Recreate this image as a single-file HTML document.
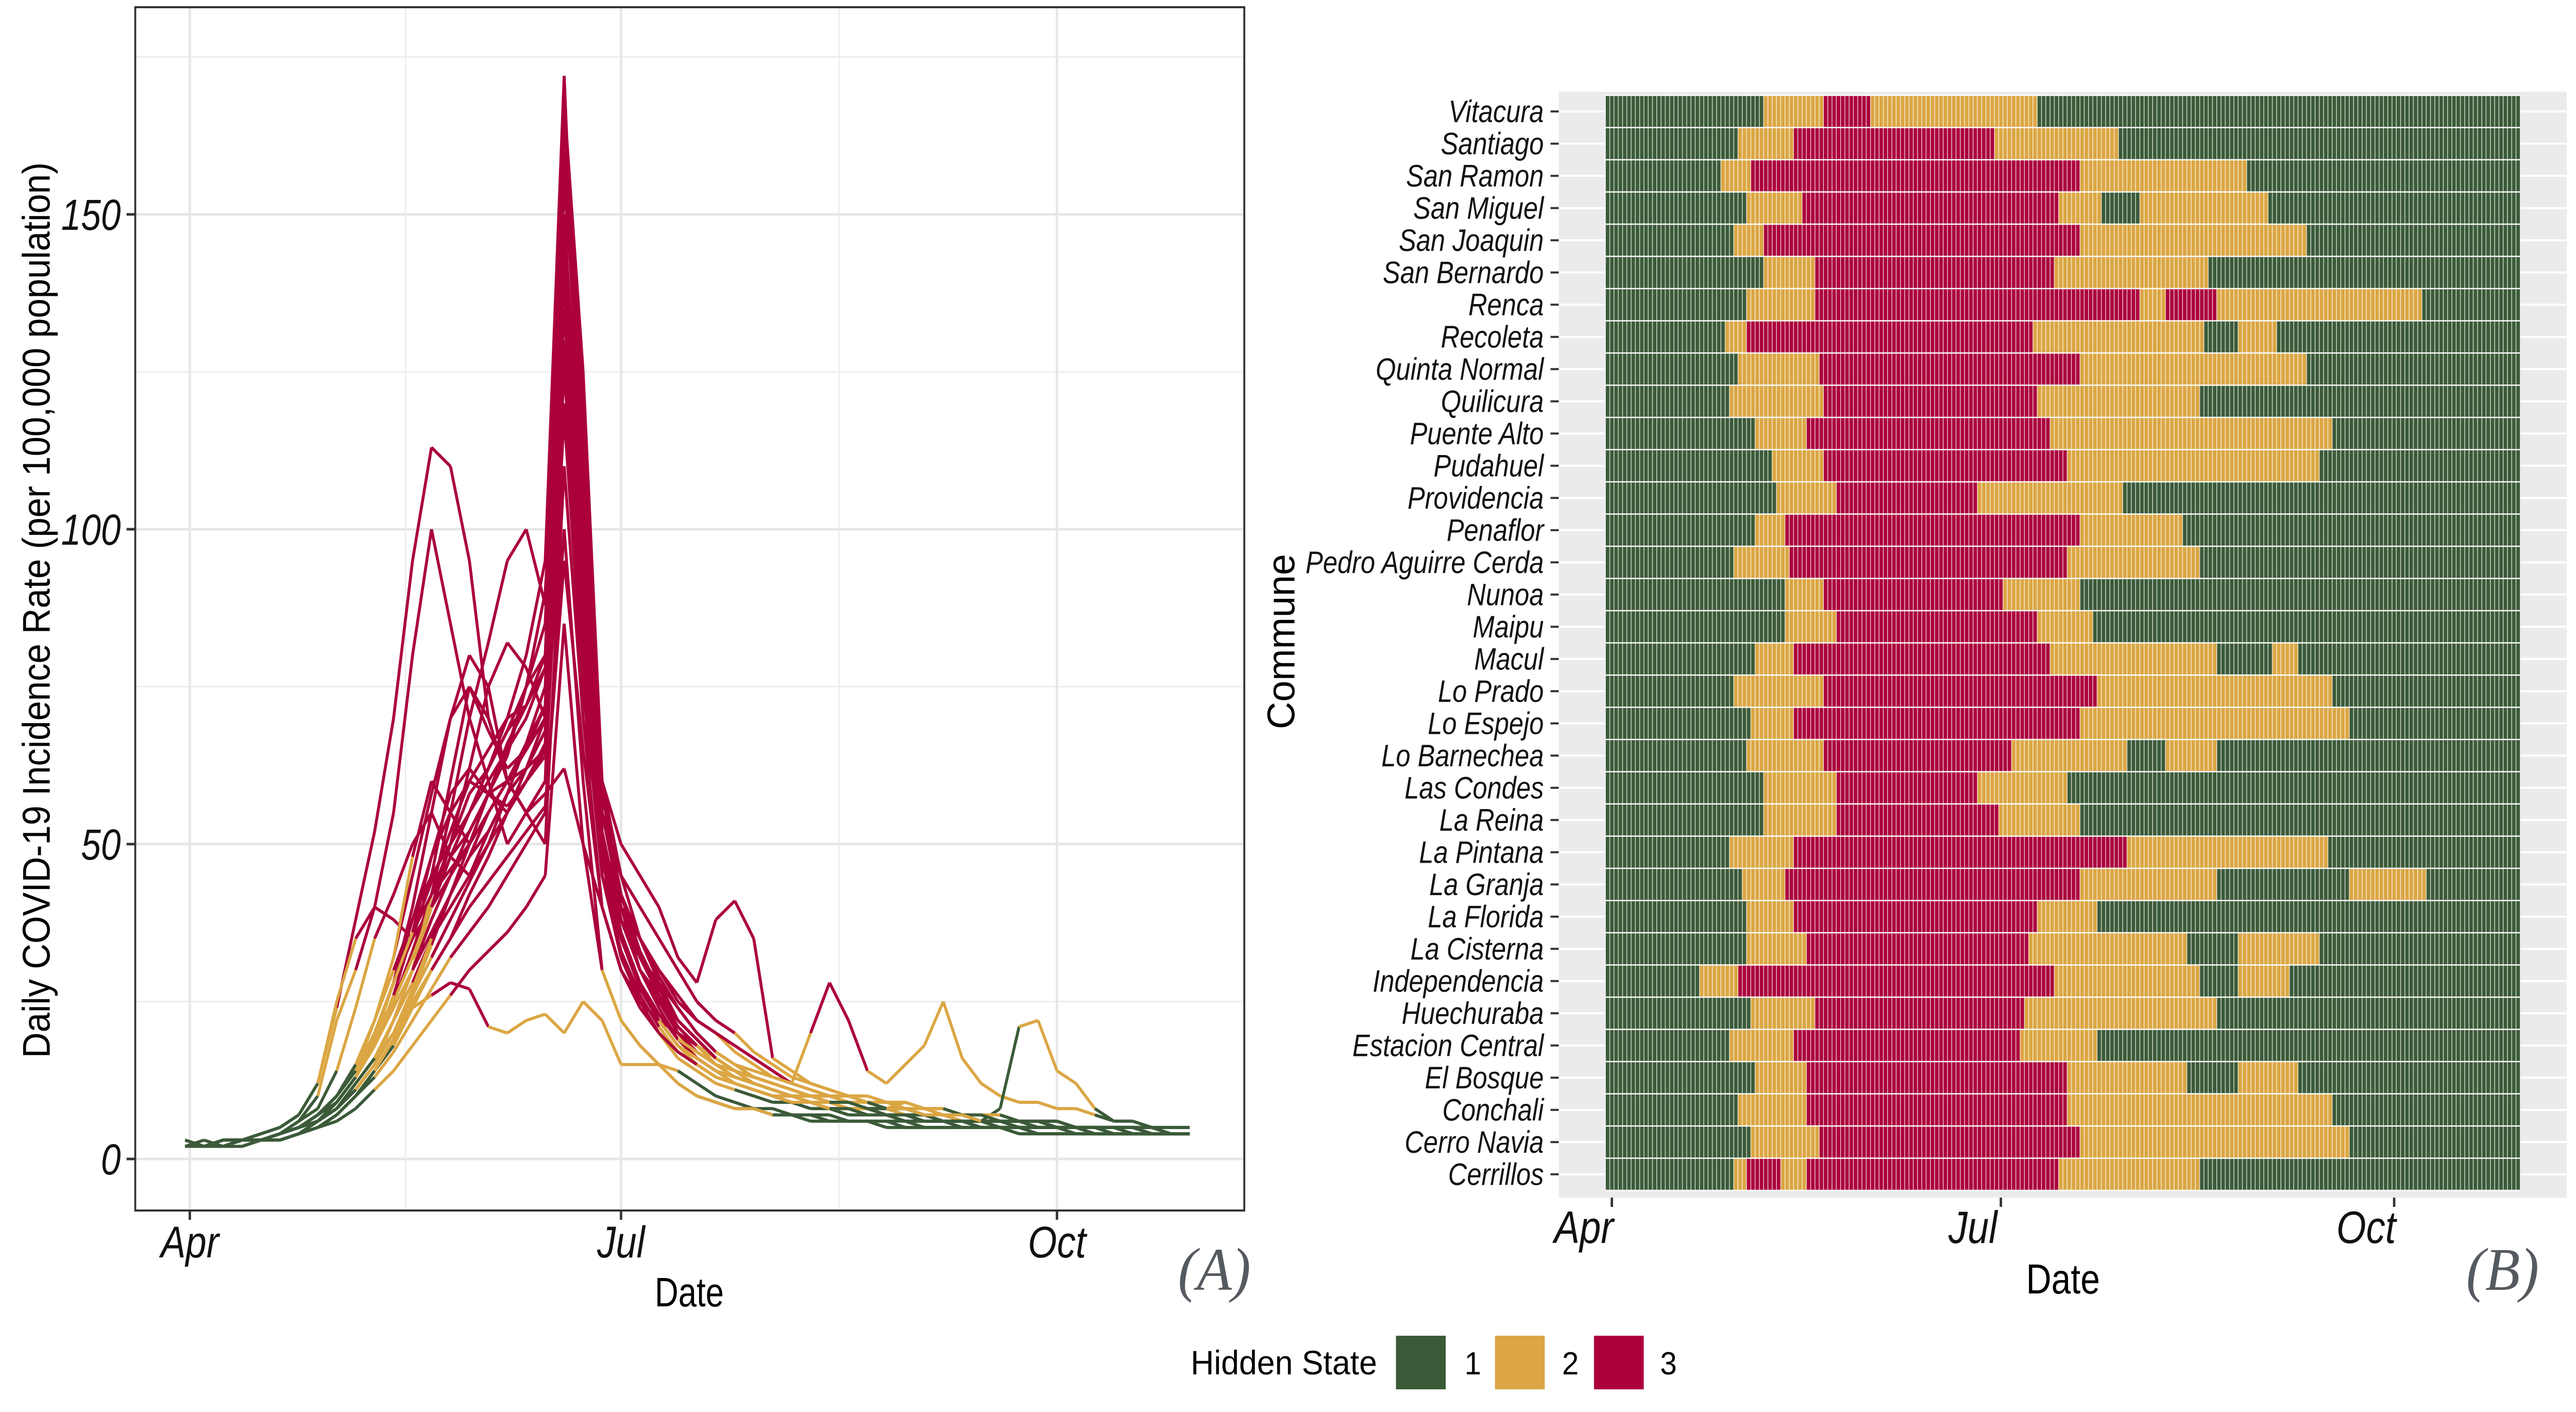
<!DOCTYPE html>
<html><head><meta charset="utf-8"><style>
html,body{margin:0;padding:0;background:#fff;overflow:hidden;width:100vw;height:100vh;}
svg{display:block;width:100vw;height:100vh;}
text{font-family:"Liberation Sans",sans-serif;}
</style></head><body>
<svg id="fig" xmlns="http://www.w3.org/2000/svg" viewBox="0 0 5333 2740" preserveAspectRatio="none">
<rect x="0" y="0" width="5333" height="2740" fill="#fff"/>
<g id="panelA"></g>
<g id="panelB"></g>
<g id="legend">
  <text x="2465" y="2667" font-size="66" fill="#000" textLength="386" lengthAdjust="spacingAndGlyphs">Hidden State</text>
  <rect x="2890" y="2592" width="103" height="104" fill="#3A5A38"/>
  <text x="3032" y="2667" font-size="62" fill="#000">1</text>
  <rect x="3095" y="2592" width="103" height="104" fill="#DBA643"/>
  <text x="3234" y="2667" font-size="62" fill="#000">2</text>
  <rect x="3300" y="2592" width="103" height="104" fill="#AB003C"/>
  <text x="3437" y="2667" font-size="62" fill="#000">3</text>
</g>
<text x="2514" y="2503" font-size="118" fill="#555a60" text-anchor="middle" font-style="italic" style="font-family:'Liberation Serif',serif">(A)</text>
<text x="5181" y="2503" font-size="118" fill="#555a60" text-anchor="middle" font-style="italic" style="font-family:'Liberation Serif',serif">(B)</text>
</svg>
<script>
// ---------- data ----------
const communes = ["Vitacura","Santiago","San Ramon","San Miguel","San Joaquin","San Bernardo","Renca","Recoleta","Quinta Normal","Quilicura","Puente Alto","Pudahuel","Providencia","Penaflor","Pedro Aguirre Cerda","Nunoa","Maipu","Macul","Lo Prado","Lo Espejo","Lo Barnechea","Las Condes","La Reina","La Pintana","La Granja","La Florida","La Cisterna","Independencia","Huechuraba","Estacion Central","El Bosque","Conchali","Cerro Navia","Cerrillos"];
// state runs: [state, first day (days since Apr 1)]
const stateRuns = [
 [[1,-1],[2,36],[3,50],[2,61],[1,100]],
 [[1,-1],[2,30],[3,43],[2,90],[1,119]],
 [[1,-1],[2,26],[3,33],[2,110],[1,149]],
 [[1,-1],[2,32],[3,45],[2,105],[1,115],[2,124],[1,154]],
 [[1,-1],[2,29],[3,36],[2,110],[1,163]],
 [[1,-1],[2,36],[3,48],[2,104],[1,140]],
 [[1,-1],[2,32],[3,48],[2,124],[3,130],[2,142],[1,190]],
 [[1,-1],[2,27],[3,32],[2,99],[1,139],[2,147],[1,156]],
 [[1,-1],[2,30],[3,49],[2,110],[1,163]],
 [[1,-1],[2,28],[3,50],[2,100],[1,138]],
 [[1,-1],[2,34],[3,46],[2,103],[1,169]],
 [[1,-1],[2,38],[3,50],[2,107],[1,166]],
 [[1,-1],[2,39],[3,53],[2,86],[1,120]],
 [[1,-1],[2,34],[3,41],[2,110],[1,134]],
 [[1,-1],[2,29],[3,42],[2,107],[1,138]],
 [[1,-1],[2,41],[3,50],[2,92],[1,110]],
 [[1,-1],[2,41],[3,53],[2,100],[1,113]],
 [[1,-1],[2,34],[3,43],[2,103],[1,142],[2,155],[1,161]],
 [[1,-1],[2,29],[3,50],[2,114],[1,169]],
 [[1,-1],[2,33],[3,43],[2,110],[1,173]],
 [[1,-1],[2,32],[3,50],[2,94],[1,121],[2,130],[1,142]],
 [[1,-1],[2,36],[3,53],[2,86],[1,107]],
 [[1,-1],[2,36],[3,53],[2,91],[1,110]],
 [[1,-1],[2,28],[3,43],[2,121],[1,168]],
 [[1,-1],[2,31],[3,41],[2,110],[1,142],[2,173],[1,191]],
 [[1,-1],[2,32],[3,43],[2,100],[1,114]],
 [[1,-1],[2,32],[3,46],[2,98],[1,135],[2,147],[1,166]],
 [[1,-1],[2,21],[3,30],[2,104],[1,138],[2,147],[1,159]],
 [[1,-1],[2,33],[3,48],[2,97],[1,142]],
 [[1,-1],[2,28],[3,43],[2,96],[1,114]],
 [[1,-1],[2,34],[3,46],[2,107],[1,135],[2,147],[1,161]],
 [[1,-1],[2,30],[3,46],[2,107],[1,169]],
 [[1,-1],[2,33],[3,49],[2,110],[1,173]],
 [[1,-1],[2,29],[3,32],[2,40],[3,46],[2,105],[1,138]]
];
const firstDay = -1, lastDay = 212;
const sampleDays = [-1,3,7,11,15,19,23,27,31,35,39,43,47,51,55,59,63,67,71,75,79,83,87,91,95,99,103,107,111,115,119,123,127,131,135,139,143,147,151,155,159,163,167,171,175,179,183,187,191,195,199,203,207,211];
const seriesCommune = ["Santiago","Independencia","San Ramon","La Pintana","Renca","La Granja","Puente Alto","Maipu","La Florida","Pudahuel","Quilicura","Lo Espejo","Lo Prado","Cerro Navia","Conchali","Vitacura","Las Condes","Recoleta","Estacion Central","Providencia","El Bosque","Pedro Aguirre Cerda","Huechuraba","San Miguel","San Joaquin","San Bernardo","Quinta Normal","Penaflor","Macul","La Cisterna"];
const s01=[2,2,3,3,3,4,5,6,9,13,18,25,33,42,50,58,62,70,80,95,172,100,48,32,25,20,17,15,13,12,11,10,10,9,9,8,8,7,7,7,6,6,6,6,5,5,5,5,5,5,5,4,4,4];
const s02=[3,2,3,3,4,5,7,12,24,38,52,70,95,113,110,95,70,60,55,58,62,50,40,30,25,22,20,18,16,14,13,12,11,10,9,9,8,8,7,7,7,6,6,6,6,5,5,5,5,5,5,5,4,4];
const s03=[2,2,2,3,3,4,6,10,22,30,40,55,80,100,85,70,60,50,55,60,140,90,50,42,35,30,26,22,20,17,15,13,12,11,10,10,9,8,8,7,7,7,6,6,6,5,5,5,5,5,5,4,4,4];
const s04=[3,2,3,3,3,4,5,7,10,14,20,28,35,40,45,50,55,60,65,70,130,80,60,50,45,40,32,28,38,41,35,16,14,12,11,10,10,9,9,8,8,7,7,7,6,6,6,5,5,5,5,5,4,4];
const s05=[2,2,2,3,3,4,5,6,8,12,16,22,30,40,48,52,58,60,62,65,110,70,50,40,35,30,25,22,20,18,16,14,12,20,28,22,14,12,15,18,25,16,12,10,9,9,8,8,7,6,6,5,5,5];
const s06=[2,2,3,3,3,4,5,7,10,14,22,30,38,45,50,55,60,65,75,80,150,95,45,35,28,22,18,16,14,13,12,11,10,9,8,8,7,7,7,7,6,6,6,8,21,22,14,12,8,6,6,5,5,5];
const s07=[2,2,2,3,3,3,4,6,8,12,16,22,28,35,40,45,50,55,62,70,160,110,55,40,30,25,20,17,15,13,12,11,10,10,9,9,8,8,8,7,7,7,6,6,6,6,5,5,5,5,5,4,4,4];
const s08=[2,2,2,2,3,3,4,5,7,10,14,18,24,30,35,42,48,55,60,65,165,120,60,40,30,24,19,16,14,12,11,10,9,9,8,8,7,7,7,6,6,6,6,5,5,5,5,5,4,4,4,4,4,4];
const s09=[2,2,2,3,3,3,4,6,8,11,15,22,30,36,42,48,52,58,62,68,155,115,58,42,32,26,20,16,14,12,11,10,9,9,8,8,7,7,6,6,6,6,5,5,5,5,5,5,4,4,4,4,4,4];
const s10=[2,2,3,3,3,4,5,6,8,11,15,20,26,32,38,44,50,58,66,75,150,100,52,38,30,26,22,19,16,14,13,12,11,10,9,9,8,8,7,7,7,6,6,6,6,5,5,5,5,5,4,4,4,4];
const s11=[2,2,2,3,3,3,4,5,7,10,14,19,26,34,42,50,58,64,75,90,140,95,50,35,28,22,18,15,13,12,11,10,9,8,8,7,7,7,6,6,6,5,5,5,5,5,5,4,4,4,4,4,4,4];
const s12=[2,2,3,3,3,4,5,7,10,14,20,28,40,55,70,80,75,60,55,60,120,80,48,38,32,28,24,20,17,15,13,12,11,10,10,9,9,8,8,7,7,7,6,6,6,6,5,5,5,5,5,4,4,4];
const s13=[2,2,2,3,3,4,5,6,8,12,16,22,30,42,55,70,82,95,100,88,130,75,55,45,40,35,30,25,22,20,17,15,13,12,11,10,10,9,9,8,8,7,7,7,6,6,6,5,5,5,5,5,4,4];
const s14=[2,2,3,3,3,4,5,7,10,14,20,25,32,40,48,55,62,68,72,78,168,125,60,45,35,28,22,19,16,14,13,12,11,10,9,9,8,8,8,7,7,7,6,6,6,6,5,5,5,5,5,4,4,4];
const s15=[2,2,2,3,3,4,5,6,9,13,18,25,32,40,48,55,62,68,75,85,160,105,55,40,32,26,21,18,15,14,12,11,10,10,9,9,8,8,7,7,7,6,6,6,6,5,5,5,5,5,5,4,4,4];
const s16=[2,2,2,3,3,3,4,6,8,12,16,20,24,26,28,27,21,20,22,23,20,25,22,15,15,15,14,12,10,9,8,8,7,7,7,6,6,6,6,5,5,5,5,5,5,4,4,4,4,4,4,4,4,4];
const s17=[2,2,2,2,3,3,4,5,7,10,13,17,22,27,32,36,40,45,50,55,100,60,30,22,18,15,12,10,9,8,8,7,7,7,6,6,6,6,5,5,5,5,5,5,4,4,4,4,4,4,4,4,4,4];
const s18=[3,2,3,3,4,5,7,12,25,35,40,38,35,45,60,75,70,60,55,50,110,70,40,30,25,22,18,16,14,13,12,11,10,10,9,9,8,8,9,8,8,7,7,6,6,6,6,5,5,5,5,5,4,4];
const s19=[2,2,3,3,3,4,5,7,10,14,20,28,36,44,52,60,65,70,72,80,145,90,45,32,25,20,16,14,12,11,10,9,9,8,8,7,7,7,6,6,6,6,5,5,5,5,5,5,4,4,4,4,4,4];
const s20=[2,2,2,3,3,3,4,5,6,8,11,14,18,22,26,30,33,36,40,45,85,50,30,22,18,15,12,10,9,8,8,7,7,6,6,6,6,5,5,5,5,5,5,5,4,4,4,4,4,4,4,4,4,4];
const s21=[2,2,3,3,3,4,5,6,9,13,18,24,30,38,45,52,58,65,70,78,150,100,52,38,30,25,21,18,16,14,13,12,11,10,10,9,9,8,8,7,7,7,6,6,6,6,5,5,5,5,5,4,4,4];
const s22=[2,2,3,3,3,4,5,7,10,15,22,32,45,58,70,75,68,62,65,70,125,85,50,38,30,25,21,18,16,14,13,12,11,10,10,9,9,8,8,7,7,7,6,6,6,6,5,5,5,5,5,4,4,4];
const s23=[2,2,2,3,3,4,5,6,8,11,15,20,27,35,42,48,55,60,66,72,135,88,45,33,26,21,17,15,13,12,11,10,9,9,8,8,7,7,7,6,6,6,6,5,5,5,5,5,5,4,4,4,4,4];
const s24=[2,3,2,3,3,4,5,7,10,15,22,32,48,60,55,50,58,66,72,80,120,85,50,38,30,25,20,17,15,13,12,11,10,9,9,8,8,7,7,7,6,6,6,5,5,5,5,5,5,4,4,4,4,4];
const s25=[2,2,3,3,3,4,6,8,14,24,35,42,50,55,48,45,52,58,62,68,158,120,58,42,33,27,22,19,16,14,13,12,11,10,10,9,9,8,8,7,7,7,6,6,6,6,5,5,5,5,5,5,4,4];
const s26=[2,2,2,2,3,3,4,5,7,10,14,19,25,30,35,40,44,48,52,56,95,65,40,30,24,20,17,15,13,12,11,10,9,9,8,8,8,7,7,7,6,6,6,6,5,5,5,5,5,5,4,4,4,4];
const s27=[2,2,3,3,3,4,5,7,10,14,19,25,32,40,50,62,75,82,78,70,128,90,55,42,35,29,24,20,17,15,14,13,12,11,10,10,9,9,8,8,7,7,7,6,6,6,6,5,5,5,5,5,4,4];
const s28=[2,2,2,3,3,4,5,6,9,13,19,28,38,48,55,60,58,56,60,64,118,75,45,35,28,23,19,16,14,12,11,10,10,9,8,8,7,7,7,6,6,6,6,5,5,5,5,5,5,4,4,4,4,4];
const s29=[2,2,3,3,3,4,5,7,9,13,18,26,36,48,58,62,58,55,60,66,135,90,50,36,28,23,19,17,15,14,13,12,11,10,10,9,9,8,8,7,7,7,6,6,6,6,5,5,5,5,5,4,4,4];
const s30=[2,2,2,3,3,4,5,7,10,14,20,28,36,42,46,50,55,60,65,72,142,95,48,35,27,22,18,16,14,13,12,11,10,10,9,9,8,8,8,7,7,7,6,6,6,6,5,5,5,5,5,4,4,4];
const seriesValues=[s01,s02,s03,s04,s05,s06,s07,s08,s09,s10,s11,s12,s13,s14,s15,s16,s17,s18,s19,s20,s21,s22,s23,s24,s25,s26,s27,s28,s29,s30];
const yTicksA=[0,50,100,150];
const yMinorA=[25,75,125,175];
const monthTicks=[["Apr",0],["Jul",91],["Oct",183]];
const monthMinor=[45.5,137];

// ---------- helpers ----------
const NS="http://www.w3.org/2000/svg";
const COLORS={1:"#3A5A38",2:"#DBA643",3:"#AB003C"};
function mk(parent,tag,attrs,txt){const e=document.createElementNS(NS,tag);for(const k in attrs)e.setAttribute(k,attrs[k]);if(txt!==undefined)e.textContent=txt;parent.appendChild(e);return e;}
function stateAt(runs,d){let s=runs[0][0];for(const r of runs){if(d>=r[1])s=r[0];}return s;}

// ---------- Panel A ----------
const A={l:280,t:14,r:2576,b:2349};
const xA=d=>393+d*9.81;
const yA=v=>2249-v*12.22;
const pa=document.getElementById("panelA");
for(const v of yMinorA){const e=mk(pa,"line",{x1:A.l,x2:A.r,y1:yA(v),y2:yA(v),stroke:"#EBEBEB","stroke-width":2.5});

}
for(const d of monthMinor){const e=mk(pa,"line",{x1:xA(d),x2:xA(d),y1:A.t,y2:A.b,stroke:"#EBEBEB","stroke-width":2.5});

}
for(const v of yTicksA){const e=mk(pa,"line",{x1:A.l,x2:A.r,y1:yA(v),y2:yA(v),stroke:"#E6E6E6","stroke-width":5});

}
for(const m of monthTicks){const e=mk(pa,"line",{x1:xA(m[1]),x2:xA(m[1]),y1:A.t,y2:A.b,stroke:"#E6E6E6","stroke-width":5});

}
const gl=mk(pa,"g",{fill:"none","stroke-width":6,"stroke-linejoin":"round","stroke-linecap":"butt"});


seriesValues.forEach((vals,si)=>{
  const ci=communes.indexOf(seriesCommune[si]);const runs=stateRuns[ci];
  const g=mk(gl,"g",{});
  
  
  for(let k=0;k<vals.length-1;k++){
    const st=stateAt(runs,sampleDays[k]);
    const seg=mk(g,"line",{x1:xA(sampleDays[k]),y1:yA(vals[k]),x2:xA(sampleDays[k+1]),y2:yA(vals[k+1]),stroke:COLORS[st]});
    
    
  }
});
const bA=mk(pa,"rect",{x:A.l,y:A.t,width:A.r-A.l,height:A.b-A.t,fill:"none",stroke:"#333","stroke-width":4});


for(const v of yTicksA){
  const t=mk(pa,"line",{x1:262,x2:A.l,y1:yA(v),y2:yA(v),stroke:"#333","stroke-width":5});
  
  
  const lb=mk(pa,"text",{x:250,y:yA(v)+30,"font-size":84,"text-anchor":"end","font-style":"italic",fill:"#111",transform:`translate(250,0) scale(0.88,1) translate(-250,0)`},String(v));
  
  
}
for(const m of monthTicks){
  const t=mk(pa,"line",{x1:xA(m[1]),x2:xA(m[1]),y1:A.b,y2:A.b+18,stroke:"#333","stroke-width":5});
  
  
  const lb=mk(pa,"text",{x:xA(m[1]),y:2440,"font-size":86,"text-anchor":"middle","font-style":"italic",fill:"#111",transform:`translate(${xA(m[1])},0) scale(0.9,1) translate(${-xA(m[1])},0)`},m[0]);
  
  
}
const xtA=mk(pa,"text",{x:1427,y:2535,"font-size":80,"text-anchor":"middle",fill:"#000",textLength:143,lengthAdjust:"spacingAndGlyphs"},"Date");


const ytA=mk(pa,"text",{x:0,y:0,"font-size":80,"text-anchor":"middle",fill:"#000",textLength:1738,lengthAdjust:"spacingAndGlyphs",transform:"translate(103,1184) rotate(-90)"},"Daily COVID-19 Incidence Rate (per 100,000 population)");



// ---------- Panel B ----------
const B={l:3227,t:178,r:5314,b:2324};
const xB=d=>3337+d*8.85;
const rowTop=185,rowH=62.5;
const yB=i=>rowTop+i*rowH;
const pb=document.getElementById("panelB");
const bg=mk(pb,"rect",{x:B.l,y:B.t,width:B.r-B.l,height:B.b-B.t,fill:"#EBEBEB"});


communes.forEach((c,i)=>{
  const gline=mk(pb,"line",{x1:B.l,x2:B.r,y1:yB(i)+rowH/2,y2:yB(i)+rowH/2,stroke:"#fff","stroke-width":4});
  
  
});
const tiles=mk(pb,"g",{});


communes.forEach((c,i)=>{
  const runs=stateRuns[i];
  runs.forEach((r,j)=>{
    const s=r[1], e=(j<runs.length-1?runs[j+1][1]:lastDay+1);
    const rc=mk(tiles,"rect",{x:xB(s)-4.425,y:yB(i),width:(e-s)*8.85,height:rowH,fill:COLORS[r[0]]});
    
    
  });
});
let dp="";
for(let d=firstDay;d<=lastDay+1;d++){const x=(xB(d)-4.425).toFixed(2);dp+=`M${x} ${yB(0)}V${yB(communes.length)}`;}
const sep=mk(pb,"path",{d:dp,stroke:"#fff","stroke-width":1.6,"stroke-opacity":0.75,fill:"none"});


let rp="";
for(let i=0;i<=communes.length;i++){rp+=`M${xB(firstDay)-4.425} ${yB(i).toFixed(2)}H${xB(lastDay)+4.425}`;}
const rsep=mk(pb,"path",{d:rp,stroke:"#fff","stroke-width":2.5,fill:"none"});


communes.forEach((c,i)=>{
  const cy=yB(i)+rowH/2;
  const t=mk(pb,"line",{x1:3210,x2:B.l,y1:cy,y2:cy,stroke:"#333","stroke-width":4});
  
  
  const lb=mk(pb,"text",{x:3196,y:cy+21,"font-size":60,"text-anchor":"end","font-style":"italic",fill:"#111",transform:`translate(3196,0) scale(0.9,1) translate(-3196,0)`},c);
  
  
});
for(const m of monthTicks){
  const t=mk(pb,"line",{x1:xB(m[1]),x2:xB(m[1]),y1:B.b,y2:B.b+18,stroke:"#333","stroke-width":5});
  
  
  const lb=mk(pb,"text",{x:xB(m[1])-58,y:2412,"font-size":88,"text-anchor":"middle","font-style":"italic",fill:"#111",transform:`translate(${xB(m[1])-58},0) scale(0.9,1) translate(${-(xB(m[1])-58)},0)`},m[0]);
  
  
}
const xtB=mk(pb,"text",{x:4271,y:2510,"font-size":82,"text-anchor":"middle",fill:"#000",textLength:153,lengthAdjust:"spacingAndGlyphs"},"Date");


const ytB=mk(pb,"text",{x:0,y:0,"font-size":80,"text-anchor":"middle",fill:"#000",textLength:340,lengthAdjust:"spacingAndGlyphs",transform:"translate(2680,1245) rotate(-90)"},"Commune");


</script>
</body></html>
